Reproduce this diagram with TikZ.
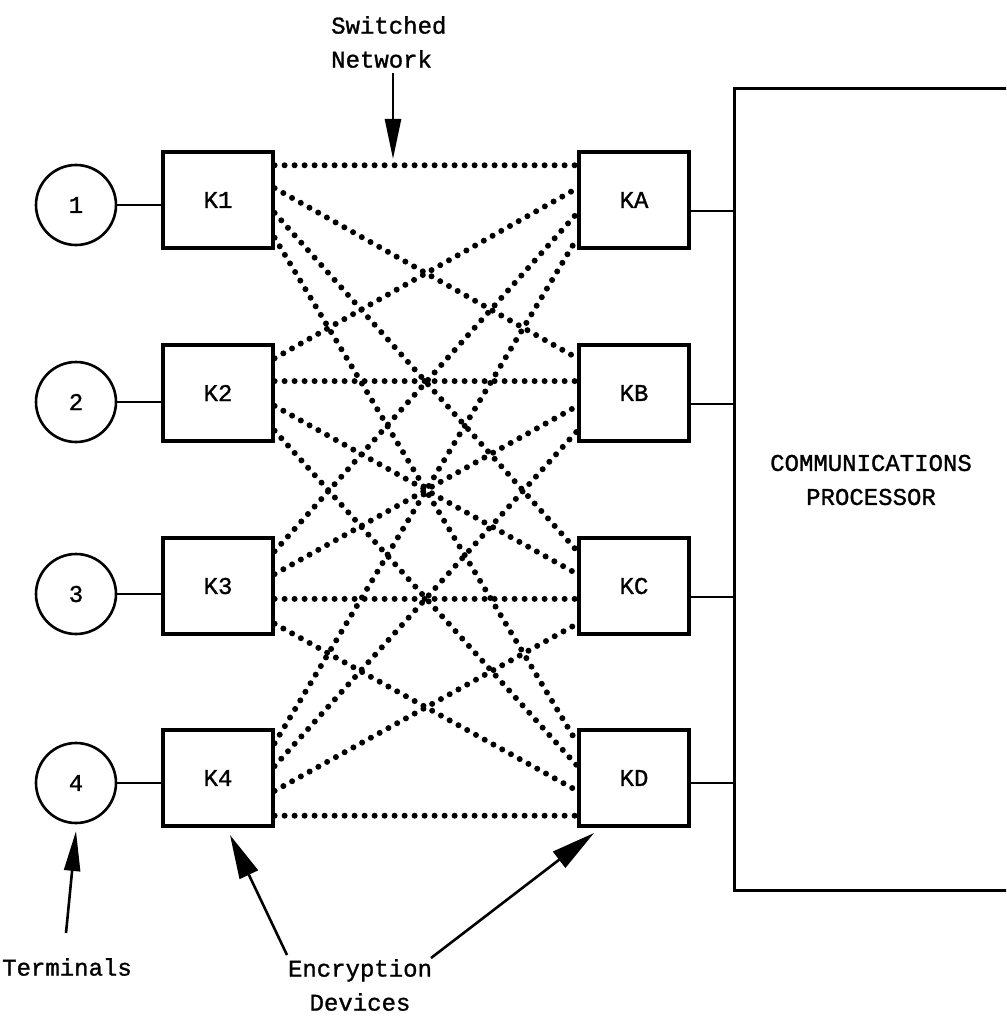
\documentclass[tikz,border=0pt]{standalone}
\usepackage{fontspec}
\newfontfamily\tw[FakeBold=1.2]{Liberation Mono}
\usetikzlibrary{arrows.meta,calc}
\begin{document}
\begin{tikzpicture}[x=1pt,y=-1pt,
  kbox/.style={draw,line width=3.2pt,minimum width=110pt,minimum height=96pt,inner sep=0pt,font=\tw\fontsize{24}{28}\selectfont},
  term/.style={draw,circle,line width=2.6pt,minimum size=80pt,inner sep=0pt,font=\tw\fontsize{24}{28}\selectfont},
  wire/.style={line width=2.8pt},
  net/.style={line width=6pt,line cap=round,dash pattern=on 0pt off 10pt},
  lbl/.style={font=\tw\fontsize{24}{34}\selectfont,inner sep=0pt},
  pointer/.style={line width=2.6pt,-{Triangle[length=40pt,width=16pt]}},
  bigpointer/.style={line width=2.6pt,-{Triangle[length=44pt,width=20pt]}}]
\useasboundingbox (0,0) rectangle (1006,1016);
\clip (0,0) rectangle (1006,1016);

% terminals
\node[term] (T1) at (76,205) {1};
\node[term] (T2) at (76,402) {2};
\node[term] (T3) at (76,594) {3};
\node[term] (T4) at (76,783) {4};

% encryption devices
\node[kbox] (K1) at (218,200) {K1};
\node[kbox] (K2) at (218,393) {K2};
\node[kbox] (K3) at (218,586) {K3};
\node[kbox] (K4) at (218,778) {K4};
\node[kbox] (KA) at (634,200) {KA};
\node[kbox] (KB) at (634,393) {KB};
\node[kbox] (KC) at (634,586) {KC};
\node[kbox] (KD) at (634,778) {KD};

% communications processor
\node[draw,line width=3.2pt,minimum width=330pt,minimum height=802pt,anchor=north west,inner sep=0pt] (cp) at (733,87) {};
\node[lbl,align=center] (cptext) at (871,480) {COMMUNICATIONS\\PROCESSOR};

% terminal links
\foreach \n in {1,2,3,4}{
  \draw[wire] (T\n.east) -- (T\n.east -| K\n.west);
}
% processor links
\draw[wire] (KA.east |- 0,211) -- (cp.west |- 0,211);
\draw[wire] (KB.east |- 0,404) -- (cp.west |- 0,404);
\draw[wire] (KC.east |- 0,597) -- (cp.west |- 0,597);
\draw[wire] (KD.east |- 0,783) -- (cp.west |- 0,783);

% switched network
\foreach \si/\fa in {1/0.15,2/0.38,3/0.63,4/0.88}{
  \foreach \tj/\fb in {A/0.15,B/0.38,C/0.63,D/0.88}{
    \draw[net] ($(K\si.north east)!\fb!(K\si.south east)$) -- ($(K\tj.north west)!\fa!(K\tj.south west)$);
  }
}

% labels
\node[lbl,align=left,anchor=west] (sn) at (331,42) {Switched\\Network};
\coordinate (netTop) at (393,159);
\draw[pointer] (393,73) -- (netTop);

\node[lbl] (tl) at (67,967) {Terminals};
\coordinate (tTip) at (76,831);
\draw[pointer] (66,933) -- (tTip);

\node[lbl,align=center] (ed) at (360,985) {Encryption\\Devices};
\coordinate (eTipL) at (230,835);
\coordinate (eTipR) at (594,833);
\draw[bigpointer] (287,955) -- (eTipL);
\draw[bigpointer] (431,958) -- (eTipR);
\end{tikzpicture}
\end{document}
